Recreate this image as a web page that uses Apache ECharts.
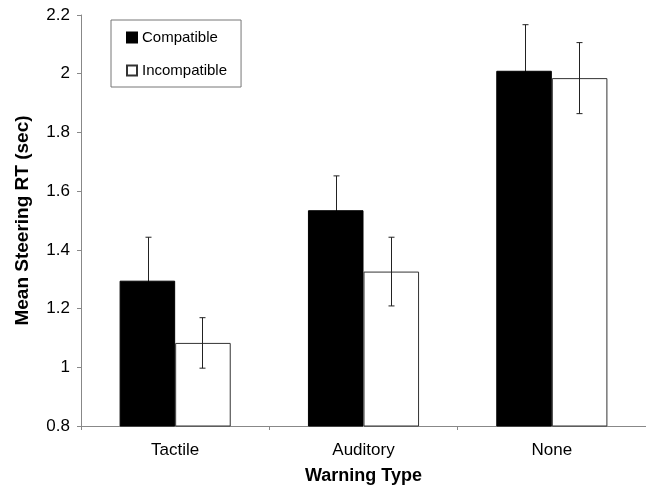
<!DOCTYPE html>
<html>
<head>
<meta charset="utf-8">
<script src="https://cdn.jsdelivr.net/npm/echarts@6/dist/echarts.min.js"></script>
<style>
  html, body { margin: 0; padding: 0; background: #fff; }
  #chart { width: 646px; height: 485px; }
</style>
</head>
<body>
<div id="chart"></div>
<script>
// values
const categories = ['Tactile', 'Auditory', 'None']
const compatible = [1.295, 1.535, 2.01]
const compatibleErr = [0.148, 0.117, 0.157]
const incompatible = [1.083, 1.326, 1.985]
const incompatibleErr = [0.086, 0.117, 0.121]
const yTicks = [0.8, 1, 1.2, 1.4, 1.6, 1.8, 2, 2.2]

const font = '"Liberation Sans", Arial, sans-serif'
const barShare = 0.29 // each bar as a fraction of the category band

// error bar drawn on one side of the category center
function errorSeries (name, means, errs, side, z) {
  return {
    name: name + ' error',
    type: 'custom',
    z,
    data: means.map((m, i) => [i, m - errs[i], m + errs[i]]),
    renderItem (params, api) {
      const band = api.size([1, 0])[0]
      const off = side * band * barShare / 2
      const lo = api.coord([api.value(0), api.value(1)])
      const hi = api.coord([api.value(0), api.value(2)])
      const x = Math.round(lo[0] + off) + 0.5
      const cap = 3
      const style = { stroke: '#222', lineWidth: 1 }
      return {
        type: 'group',
        children: [
          { type: 'line', shape: { x1: x, y1: lo[1], x2: x, y2: hi[1] }, style },
          { type: 'line', shape: { x1: x - cap, y1: hi[1], x2: x + cap, y2: hi[1] }, style },
          { type: 'line', shape: { x1: x - cap, y1: lo[1], x2: x + cap, y2: lo[1] }, style }
        ]
      }
    }
  }
}

const chart = echarts.init(document.getElementById('chart'))

chart.setOption({
  animation: false,
  textStyle: { fontFamily: font },
  grid: { left: 81, right: 0, top: 15, bottom: 59, outerBoundsMode: 'none', containLabel: false },
  legend: {
    data: ['Compatible', 'Incompatible'],
    orient: 'vertical',
    left: 111,
    top: 20,
    padding: [10, 14, 9, 15],
    itemGap: 18,
    itemWidth: 10,
    itemHeight: 10,
    borderColor: '#777',
    borderWidth: 1,
    icon: 'rect',
    textStyle: { fontSize: 15, color: '#000', fontFamily: font }
  },
  xAxis: {
    type: 'category',
    data: categories,
    name: 'Warning Type',
    nameLocation: 'middle',
    nameGap: 41,
    nameTextStyle: { fontSize: 18, fontWeight: 'bold', color: '#000', fontFamily: font },
    axisLine: { lineStyle: { color: '#888', width: 1 } },
    axisTick: { show: true, length: 4, lineStyle: { color: '#888' } },
    axisLabel: { fontSize: 17, color: '#000', margin: 16 }
  },
  yAxis: {
    type: 'value',
    min: yTicks[0],
    max: yTicks[yTicks.length - 1],
    interval: 0.2,
    name: 'Mean Steering RT (sec)',
    nameLocation: 'middle',
    nameGap: 49,
    nameTextStyle: { fontSize: 19, fontWeight: 'bold', color: '#000', fontFamily: font },
    axisLine: { show: true, lineStyle: { color: '#888', width: 1 } },
    axisTick: { show: true, length: 4, lineStyle: { color: '#888' } },
    splitLine: { show: false },
    axisLabel: {
      fontSize: 17,
      color: '#000',
      margin: 11,
      formatter: v => String(Math.round(v * 10) / 10)
    }
  },
  series: [
    {
      name: 'Compatible',
      type: 'bar',
      z: 2,
      data: compatible,
      barGap: '0%',
      barCategoryGap: '41%',
      itemStyle: { color: '#000', borderColor: '#000', borderWidth: 1 }
    },
    {
      name: 'Incompatible',
      type: 'bar',
      z: 2,
      data: incompatible,
      itemStyle: { color: '#fff', borderColor: '#333', borderWidth: 1 }
    },
    // compatible whiskers sit behind the black bars, so only the upper half shows
    errorSeries('Compatible', compatible, compatibleErr, -1, 1),
    errorSeries('Incompatible', incompatible, incompatibleErr, 1, 5)
  ]
})
</script>
</body>
</html>
